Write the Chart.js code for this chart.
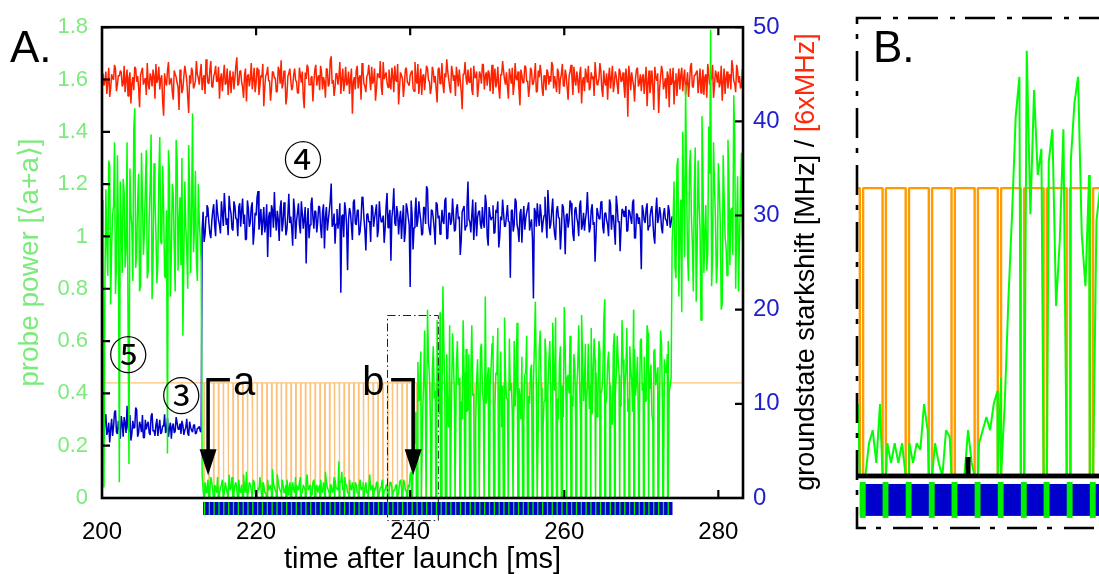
<!DOCTYPE html>
<html>
<head>
<meta charset="utf-8">
<title>Probe power and groundstate starkshift after launch</title>
<script src="https://cdn.jsdelivr.net/npm/chart.js@4.4.1/dist/chart.umd.min.js"></script>
<style>
  html, body { margin: 0; padding: 0; background: #fff; overflow: hidden; }
  #wrap { position: relative; width: 1099px; height: 574px; }
  #wrap canvas { position: absolute; left: 0; top: 0; }
</style>
</head>
<body>
<div id="wrap">
  <canvas id="main" width="1099" height="574"></canvas>
  <canvas id="zoom" width="1099" height="574"></canvas>
</div>
<script>
// ---------- axis ticks ----------
const xTicks = [200, 220, 240, 260, 280];
const powerTicks = [0, 0.2, 0.4, 0.6, 0.8, 1, 1.2, 1.4, 1.6, 1.8];
const shiftTicks = [0, 10, 20, 30, 40, 50];

// ---------- sampling of the recorded traces (ms) ----------
// every trace is stored as even samples (t = 200 + 0.25 i) and
// odd samples (t = 200.125 + 0.25 i)
const evenStart = 200.0;
const oddStart = 200.125;
const sampleStep = 0.25;

// reference laser trace, right axis [6xMHz]
const laserEven = [
  44.9, 43.8, 45.3, 44.1, 42.6, 45.0, 44.4, 45.6, 43.9, 44.8,
  45.2, 44.0, 43.1, 45.5, 44.6, 41.9, 44.7, 45.8, 44.2, 43.6,
  44.9, 45.7, 44.3, 42.8, 44.0, 45.1, 43.7, 44.8, 46.1, 44.5,
  43.4, 44.9, 40.6, 44.2, 45.4, 43.9, 44.6, 42.3, 45.0, 44.1,
  41.2, 44.7, 43.5, 45.9, 44.4, 40.9, 44.0, 45.3, 43.8, 46.4,
  44.6, 45.2, 43.3, 44.9, 46.6, 44.1, 45.5, 43.7, 44.8, 45.9,
  44.3, 42.4, 45.1, 44.7, 43.9, 45.6, 44.2, 43.0, 45.3, 44.6,
  46.8, 44.0, 45.4, 43.6, 44.9, 42.1, 45.0, 44.5, 43.4, 45.7,
  44.1, 45.5, 43.8, 44.7, 41.6, 44.9, 45.8, 44.3, 43.5, 45.2,
  44.6, 43.2, 45.4, 46.5, 44.0, 44.8, 42.7, 45.1, 44.4, 43.7,
  45.6, 44.2, 43.0, 44.9, 45.3, 41.4, 44.5, 45.7, 43.9, 44.8,
  44.1, 46.0, 44.6, 43.3, 45.2, 44.7, 42.5, 45.5, 44.0, 46.9,
  44.4, 43.6, 45.0, 44.8, 42.9, 45.6, 44.2, 43.8, 45.3, 44.5,
  40.8, 44.7, 45.4, 43.5, 44.9, 46.2, 44.0, 43.1, 45.0, 44.6,
  45.8, 44.3, 42.2, 45.1, 44.6, 43.7, 46.3, 44.9, 44.1, 45.5,
  43.4, 44.8, 45.9, 44.2, 41.8, 45.2, 44.5, 43.9, 45.7, 44.0,
  44.9, 45.4, 43.2, 44.6, 46.1, 44.3, 42.8, 45.0, 44.7, 45.6,
  44.2, 43.6, 45.3, 44.8, 42.0, 45.7, 44.4, 43.9, 45.1, 46.6,
  44.5, 43.0, 45.2, 44.9, 45.8, 43.7, 44.3, 41.3, 45.0, 44.6,
  45.5, 44.1, 43.4, 45.9, 44.7, 42.6, 45.3, 44.0, 46.0, 44.8,
  43.8, 45.1, 44.6, 42.9, 45.6, 44.2, 43.5, 45.0, 46.4, 44.4,
  45.2, 42.4, 44.8, 45.7, 43.9, 44.5, 45.3, 41.7, 44.9, 44.1,
  45.8, 44.3, 43.6, 45.4, 44.0, 46.2, 43.2, 44.7, 45.1, 42.7,
  44.6, 45.5, 43.9, 44.2, 45.9, 44.8, 43.1, 45.2, 44.5, 46.1,
  43.7, 44.9, 42.3, 45.3, 44.6, 45.8, 43.8, 44.4, 45.0, 41.9,
  44.7, 45.6, 44.1, 43.3, 45.2, 44.8, 46.3, 43.9, 44.5, 45.4,
  42.6, 44.2, 45.1, 44.7, 43.5, 45.9, 44.0, 44.8, 42.9, 45.3,
  44.4, 43.7, 45.6, 40.5, 44.9, 45.2, 43.8, 44.6, 45.7, 44.1,
  43.2, 45.0, 44.5, 41.6, 45.4, 44.0, 43.6, 45.8, 44.3, 40.9,
  44.7, 45.3, 43.9, 42.4, 44.8, 45.6, 44.2, 41.8, 45.1, 44.5,
  43.4, 45.7, 44.6, 42.8, 45.2, 44.0, 46.2, 43.6, 44.9, 45.4,
  44.2, 43.0, 45.5, 44.7, 42.5, 45.1, 44.4, 46.0, 43.8, 44.9,
  45.3, 44.1, 42.2, 45.6, 44.6, 43.5, 45.0, 46.5, 44.3, 43.1,
  45.4, 44.8, 43.7, 45.2, 44.6, 45.9, 44.0, 43.3, 45.1, 44.7
];
const laserOdd = [
  45.1, 44.3, 42.9, 45.7, 43.5, 44.6, 46.0, 43.2, 44.9, 45.4,
  43.7, 45.9, 44.4, 42.7, 45.2, 44.0, 43.3, 45.6, 44.8, 41.5,
  45.3, 43.9, 44.6, 46.2, 43.4, 44.7, 45.5, 42.4, 44.1, 45.8,
  44.5, 42.0, 45.1, 43.8, 46.3, 44.2, 43.1, 45.4, 44.7, 43.6,
  45.5, 43.0, 44.8, 45.2, 42.6, 44.9, 45.7, 43.5, 44.3, 45.0,
  43.9, 46.1, 44.5, 42.9, 45.3, 44.0, 46.4, 43.6, 45.1, 44.2,
  45.8, 44.6, 43.2, 46.0, 44.1, 42.8, 45.4, 44.7, 43.4, 45.9,
  43.8, 45.3, 44.2, 42.5, 45.6, 44.8, 43.7, 46.2, 44.4, 43.1,
  45.7, 42.8, 44.9, 46.1, 43.6, 45.0, 44.3, 42.2, 45.3, 44.6,
  43.1, 45.8, 44.0, 43.5, 45.4, 41.8, 44.8, 45.6, 43.3, 44.9,
  44.4, 43.0, 45.7, 44.1, 42.6, 45.2, 46.0, 43.9, 44.6, 42.1,
  45.5, 43.8, 44.9, 45.9, 43.4, 44.2, 45.6, 43.7, 46.5, 44.0,
  42.7, 45.1, 43.9, 46.3, 44.5, 43.2, 45.8, 44.1, 42.9, 45.6,
  44.2, 43.4, 45.9, 44.6, 42.3, 45.4, 43.7, 44.8, 46.0, 43.3,
  44.0, 45.6, 43.5, 44.9, 46.4, 42.8, 44.5, 45.2, 43.6, 44.3,
  45.7, 43.1, 44.4, 46.1, 43.7, 44.9, 42.6, 45.5, 44.2, 43.8,
  45.2, 43.5, 46.3, 44.0, 42.9, 45.6, 44.8, 43.3, 45.9, 44.4,
  42.9, 45.8, 44.1, 43.4, 45.5, 44.0, 46.2, 43.0, 44.7, 45.3,
  43.6, 45.9, 44.3, 42.7, 44.8, 45.5, 43.2, 45.0, 46.3, 43.9,
  44.2, 45.7, 42.8, 44.6, 45.3, 43.8, 44.9, 46.1, 43.4, 45.2,
  45.4, 43.2, 46.0, 44.5, 43.6, 45.8, 42.4, 44.9, 45.3, 43.9,
  43.7, 45.6, 44.0, 42.8, 46.2, 44.4, 43.3, 45.5, 44.1, 45.9,
  44.2, 42.6, 45.7, 43.9, 44.8, 43.1, 45.4, 46.0, 43.5, 44.9,
  43.3, 45.2, 44.8, 46.3, 43.5, 44.1, 45.6, 42.9, 45.0, 43.8,
  45.5, 43.6, 44.8, 46.0, 42.8, 44.4, 45.3, 43.0, 45.8, 44.3,
  43.2, 44.9, 45.9, 43.6, 44.5, 42.7, 45.0, 44.1, 46.2, 43.4,
  45.4, 43.8, 42.3, 45.7, 44.6, 43.1, 45.3, 43.9, 45.6, 44.2,
  45.2, 42.5, 44.7, 45.9, 43.3, 44.4, 42.1, 45.5, 43.7, 45.0,
  44.6, 42.9, 45.8, 44.1, 43.0, 45.4, 41.2, 44.7, 45.1, 43.5,
  45.9, 43.4, 44.6, 45.3, 41.5, 43.9, 45.7, 44.3, 42.7, 45.6,
  44.9, 43.2, 45.5, 44.0, 42.6, 45.8, 43.7, 44.9, 45.2, 43.0,
  45.6, 44.3, 42.8, 45.0, 46.1, 43.9, 44.6, 42.5, 45.4, 44.1,
  43.6, 45.9, 44.2, 42.9, 45.3, 44.8, 43.4, 45.7, 44.0, 46.0,
  44.1, 43.5, 45.6, 44.4, 42.9, 45.1, 44.8, 43.6, 45.4, 44.2
];

// groundstate starkshift, right axis [MHz], 200 ms .. 274 ms
const starkEven = [
  7.8, 6.2, 8.9, 7.1, 5.9, 8.4, 7.6, 9.3, 6.8, 7.4,
  8.7, 6.5, 7.9, 9.8, 7.0, 6.1, 8.2, 7.5, 9.4, 6.9,
  7.7, 8.8, 6.4, 7.3, 8.1, 6.7, 9.0, 7.2, 7.8, 6.6,
  8.3, 7.0, 7.6, 6.9, 8.5, 7.4, 6.3, 7.9, 7.1, 8.0,
  7.3, 6.8, 7.7, 7.2, 8.4, 6.6, 7.5, 7.0, 7.8, 6.9,
  7.4, 7.1,
  28.6, 27.2, 29.9, 30.8, 28.1, 29.4, 31.2, 27.8, 30.3, 29.0,
  31.5, 28.9, 30.6, 29.7, 32.1, 30.2, 28.4, 31.0, 29.6, 30.9,
  28.8, 31.8, 30.1, 27.5, 30.7, 29.3, 31.4, 28.2, 30.0, 32.6,
  29.5, 27.9, 30.9, 29.1, 25.6, 30.4, 31.1, 28.7, 29.8, 30.5,
  27.3, 31.6, 29.2, 30.0, 28.5, 32.3, 29.9, 26.8, 30.6, 29.4,
  31.3, 28.1, 30.2, 29.7, 24.9, 30.8, 29.0, 31.9, 28.6, 30.4,
  29.3, 30.9, 27.6, 31.2, 29.8, 28.4, 30.5, 33.4, 29.1, 27.0,
  30.7, 29.5, 21.8, 30.1, 31.4, 28.9, 29.6, 30.3, 27.4, 31.7,
  29.0, 30.6, 28.3, 32.0, 29.7, 26.3, 30.2, 29.4, 31.1, 28.8,
  30.4, 27.7, 31.5, 29.3, 30.0, 28.6, 32.4, 29.9, 25.2, 30.8,
  29.2, 31.0, 28.0, 30.5, 29.6, 27.2, 31.3, 29.8, 22.4, 30.1,
  28.7, 31.9, 29.5, 30.3, 27.9, 30.9, 29.1, 32.8, 28.4, 30.6,
  29.7, 26.9, 31.2, 30.0, 28.8, 29.4, 31.6, 27.5, 30.2, 29.0,
  31.8, 28.3, 30.7, 29.6, 25.8, 30.4, 31.0, 28.9, 33.6, 29.3,
  30.1, 27.4, 31.4, 29.8, 30.5, 28.6, 29.2, 32.2, 27.8, 30.9,
  29.5, 31.1, 28.2, 30.3, 26.6, 29.9, 31.7, 28.8, 30.0, 29.4,
  23.4, 30.6, 29.0, 31.5, 28.5, 30.2, 27.1, 31.0, 29.7, 30.8,
  28.4, 29.6, 21.2, 30.4, 31.3, 28.9, 30.1, 29.3, 32.0, 27.6,
  30.7, 29.1, 31.8, 28.0, 30.5, 29.8, 26.4, 31.2, 29.4, 30.0,
  28.7, 31.6, 29.9, 27.3, 30.9, 29.2, 31.1, 28.5, 30.3, 29.6,
  32.5, 28.2, 30.6, 29.0, 25.1, 30.8, 29.7, 31.4, 28.8, 30.2,
  29.5, 27.8, 31.2, 30.0, 28.6, 32.1, 29.3, 26.2, 30.7, 29.9,
  31.0, 28.4, 30.4, 29.1, 31.7, 27.6, 30.1, 29.8, 24.3, 30.5,
  29.2, 31.3, 28.9, 30.6, 29.4, 27.0, 31.9, 29.7, 30.2, 28.1,
  30.8, 29.5, 31.1, 28.7, 29.9
];
const starkOdd = [
  7.2, 8.5, 6.7, 8.0, 7.3, 6.6, 9.1, 7.0, 8.2, 6.3,
  7.9, 8.6, 6.9, 7.5, 8.8, 6.8, 7.4, 9.6, 6.5, 8.1,
  7.0, 6.4, 8.3, 7.8, 6.9, 8.7, 7.1, 6.6, 8.4, 7.5,
  6.8, 7.7, 8.9, 7.2, 6.5, 8.0, 7.6, 6.9, 8.6, 7.3,
  7.9, 8.2, 6.7, 7.5, 6.9, 8.1, 7.2, 7.7, 6.8, 7.4,
  7.6, 7.0,
  30.4, 28.0, 31.1, 29.2, 27.6, 30.5, 28.9, 31.7, 29.5, 28.1,
  30.2, 32.4, 29.0, 27.9, 30.8, 28.6, 31.5, 29.7, 27.8, 31.3,
  30.5, 29.1, 27.4, 31.6, 28.8, 30.9, 26.9, 30.3, 31.9, 28.5,
  30.7, 29.4, 28.2, 31.2, 29.8, 27.7, 30.6, 32.5, 28.4, 29.6,
  30.8, 28.3, 31.4, 27.9, 30.1, 29.2, 28.7, 31.8, 27.5, 30.3,
  29.0, 31.5, 28.6, 30.9, 29.3, 27.6, 31.2, 29.8, 30.5, 28.2,
  31.0, 28.7, 30.4, 26.5, 30.9, 29.5, 31.6, 28.8, 30.2, 29.1,
  28.6, 31.3, 29.9, 27.7, 30.6, 24.2, 30.8, 28.9, 31.4, 29.2,
  30.5, 27.9, 29.6, 31.7, 28.4, 30.1, 29.3, 27.2, 30.9, 29.7,
  31.2, 28.5, 30.0, 29.4, 27.1, 31.0, 28.7, 30.6, 29.8, 32.9,
  28.9, 30.3, 29.6, 27.5, 31.1, 28.3, 30.7, 29.0, 31.6, 26.4,
  30.2, 28.8, 31.5, 29.5, 28.1, 30.8, 33.1, 29.2, 27.9, 30.5,
  28.6, 31.4, 29.7, 28.0, 30.6, 29.1, 31.9, 27.6, 30.3, 29.4,
  30.0, 28.5, 31.2, 29.9, 27.3, 30.7, 28.4, 31.0, 29.6, 28.2,
  31.7, 29.3, 27.8, 30.4, 29.0, 30.9, 28.7, 31.3, 26.8, 30.1,
  29.8, 28.1, 30.6, 31.5, 27.7, 29.5, 30.2, 28.9, 31.1, 29.3,
  30.5, 28.3, 31.8, 29.0, 27.2, 30.7, 29.6, 28.5, 30.3, 31.4,
  29.1, 27.5, 30.8, 28.8, 29.9, 31.2, 28.2, 30.0, 29.4, 32.7,
  28.6, 30.5, 29.2, 27.4, 31.0, 29.7, 28.3, 30.9, 25.9, 30.2,
  29.5, 31.3, 28.0, 30.6, 29.8, 27.8, 31.6, 29.0, 28.4, 30.4,
  30.1, 28.7, 31.2, 29.3, 27.9, 30.8, 29.6, 31.5, 28.1, 30.3,
  29.0, 31.7, 28.5, 30.0, 26.9, 31.0, 29.4, 28.8, 30.5, 29.9,
  28.3, 30.6, 29.7, 31.4, 27.6, 30.2, 29.1, 28.6, 31.1, 29.5,
  30.7, 28.4, 29.8, 31.0, 27.8, 30.4, 29.2, 30.9, 28.7, 30.1,
  29.6, 28.9, 30.5, 29.3
];

// probe power, left axis [<a+a>], 200 ms .. 283.25 ms
const probeEven = [
  0.92, 0.04, 1.18, 0.85, 1.27, 0.96, 1.12, 0.78, 1.31, 0.06,
  1.05, 1.22, 0.88, 1.36, 0.13, 1.09, 0.83, 1.49, 0.94, 1.24,
  0.81, 1.15, 1.02, 1.33, 0.87, 1.19, 0.76, 1.28, 1.01, 0.90,
  1.38, 0.97, 1.11, 0.84, 0.17, 1.25, 0.93, 1.16, 0.79, 1.30,
  1.06, 0.89, 0.62, 1.21, 0.95, 1.35, 0.86, 1.47, 1.03, 0.91,
  1.20, 0.99,
  0.09, 0.05, 0.02, 0.07, 0.03, 0.06, 0.01, 0.04, 0.08, 0.02,
  0.05, 0.03, 0.06, 0.02, 0.09, 0.04, 0.01, 0.05, 0.03, 0.07,
  0.02, 0.06, 0.04, 0.10, 0.03, 0.05, 0.02, 0.06, 0.01, 0.04,
  0.08, 0.03, 0.05, 0.02, 0.07, 0.04, 0.02, 0.06, 0.03, 0.09,
  0.04, 0.02, 0.05, 0.03, 0.07, 0.01, 0.04, 0.06, 0.02, 0.05,
  0.03, 0.08, 0.02, 0.04, 0.06, 0.03, 0.05, 0.01, 0.07, 0.04,
  0.02, 0.05, 0.03, 0.06, 0.10, 0.04, 0.02, 0.05, 0.03, 0.07,
  0.04, 0.14, 0.06, 0.03, 0.08, 0.05, 0.02, 0.04, 0.06, 0.03,
  0.05, 0.02, 0.07, 0.04, 0.03, 0.06, 0.02, 0.09, 0.04, 0.05,
  0.03, 0.06, 0.02, 0.04, 0.08, 0.03, 0.05, 0.02, 0.06, 0.04,
  0.03, 0.05, 0.02, 0.07, 0.04, 0.06, 0.03, 0.05, 0.09, 0.12,
  0.21, 0.33, 0.52, 0.38, 0.61, 0.44, 0.29, 0.72, 0.47, 0.35,
  0.58, 0.41, 0.68, 0.32, 0.49, 0.81, 0.39, 0.55, 0.27, 0.46,
  0.63, 0.36, 0.51, 0.43, 0.74, 0.30, 0.48, 0.57, 0.34, 0.45,
  0.66, 0.40, 0.28, 0.53, 0.42, 0.59, 0.37, 0.77, 0.44, 0.31,
  0.50, 0.62, 0.35, 0.47, 0.25, 0.56, 0.43, 0.69, 0.38, 0.52,
  0.41, 0.33, 0.60, 0.46, 0.71, 0.39, 0.54, 0.29, 0.48, 0.64,
  0.36, 0.51, 0.44, 0.75, 0.32, 0.57, 0.42, 0.27, 0.61, 0.45,
  0.53, 0.38, 0.67, 0.41, 0.49, 0.30, 0.58, 0.43, 0.73, 0.35,
  0.47, 0.62, 0.39, 0.55, 0.24, 0.50, 0.44, 0.70, 0.37, 0.59,
  0.42, 0.34, 0.65, 0.48, 0.53, 0.31, 0.60, 0.40, 0.46, 0.76,
  0.38, 0.56, 0.43, 0.28, 0.63, 0.47, 0.52, 0.36, 0.68, 0.41,
  0.49, 0.33, 0.58, 0.45, 0.72, 0.39, 0.54, 0.30, 0.61, 0.44,
  0.37, 0.66, 0.42, 0.51, 0.29, 0.57, 0.46, 0.40, 0.64, 0.35,
  0.53, 0.48, 0.60, 0.43,
  0.98, 1.21, 0.84, 1.30, 1.02, 0.71, 1.17, 1.58, 0.93, 1.26,
  1.08, 0.79, 1.34, 0.95, 1.13, 0.68, 1.24, 1.01, 0.87, 1.42,
  1.79, 0.92, 1.19, 0.82, 1.28, 1.05, 0.74, 1.15, 0.96, 1.37,
  0.89, 1.11, 1.54, 0.80, 1.23, 0.99, 1.32, 0.90
];
const probeOdd = [
  1.14, 0.81, 0.97, 1.29, 0.74, 1.08, 1.36, 0.89, 1.03, 1.21,
  0.86, 1.17, 0.95, 0.71, 1.26, 1.04, 1.41, 0.88, 1.13, 0.79,
  1.32, 0.93, 1.18, 0.84, 1.07, 1.39, 0.91, 1.14, 0.82, 1.23,
  0.98, 1.27, 0.85, 1.10, 1.33, 0.77, 1.20, 0.96, 1.37, 0.87,
  1.15, 1.30, 0.92, 1.04, 0.80, 1.19, 1.09, 0.94, 1.25, 0.83,
  1.06, 0.90,
  0.03, 0.06, 0.04, 0.02, 0.08, 0.03, 0.05, 0.02, 0.06, 0.04,
  0.07, 0.02, 0.04, 0.05, 0.03, 0.08, 0.02, 0.06, 0.04, 0.03,
  0.05, 0.09, 0.02, 0.04, 0.06, 0.03, 0.07, 0.02, 0.05, 0.03,
  0.04, 0.06, 0.02, 0.08, 0.03, 0.05, 0.11, 0.04, 0.02, 0.06,
  0.03, 0.07, 0.02, 0.05, 0.04, 0.06, 0.02, 0.03, 0.08, 0.04,
  0.06, 0.02, 0.05, 0.03, 0.09, 0.04, 0.02, 0.06, 0.03, 0.05,
  0.04, 0.07, 0.02, 0.04, 0.06, 0.03, 0.05, 0.02, 0.08, 0.04,
  0.03, 0.06, 0.10, 0.04, 0.05, 0.02, 0.07, 0.03, 0.04, 0.06,
  0.02, 0.05, 0.03, 0.06, 0.04, 0.02, 0.07, 0.03, 0.05, 0.04,
  0.06, 0.02, 0.04, 0.07, 0.03, 0.05, 0.02, 0.06, 0.04, 0.03,
  0.05, 0.02, 0.06, 0.04, 0.07, 0.03, 0.05, 0.04, 0.10, 0.15,
  0.26, 0.45, 0.37, 0.56, 0.33, 0.64, 0.41, 0.53, 0.30, 0.49,
  0.38, 0.62, 0.44, 0.71, 0.36, 0.58, 0.47, 0.31, 0.66, 0.40,
  0.52, 0.29, 0.60, 0.46, 0.37, 0.68, 0.42, 0.33, 0.55, 0.48,
  0.39, 0.63, 0.45, 0.34, 0.57, 0.41, 0.70, 0.36, 0.50, 0.43,
  0.59, 0.32, 0.48, 0.65, 0.40, 0.27, 0.54, 0.46, 0.38, 0.61,
  0.44, 0.56, 0.35, 0.67, 0.42, 0.30, 0.53, 0.47, 0.62, 0.39,
  0.49, 0.34, 0.58, 0.43, 0.28, 0.64, 0.45, 0.37, 0.55, 0.41,
  0.60, 0.33, 0.47, 0.69, 0.38, 0.52, 0.44, 0.31, 0.57, 0.46,
  0.40, 0.63, 0.35, 0.50, 0.42, 0.66, 0.29, 0.54, 0.45, 0.37,
  0.59, 0.43, 0.32, 0.61, 0.48, 0.39, 0.56, 0.41, 0.67, 0.36,
  0.51, 0.44, 0.30, 0.58, 0.40, 0.62, 0.47, 0.35, 0.53, 0.42,
  0.65, 0.38, 0.49, 0.33, 0.57, 0.45, 0.28, 0.60, 0.41, 0.54,
  0.37, 0.63, 0.46, 0.32, 0.56, 0.43, 0.50, 0.39, 0.59, 0.34,
  0.48, 0.55, 0.41, 0.46,
  1.06, 0.88, 1.27, 0.77, 1.14, 1.40, 0.92, 1.21, 0.83, 1.33,
  0.97, 1.18, 0.75, 1.29, 1.03, 1.46, 0.86, 1.12, 0.94, 1.24,
  0.81, 1.36, 1.07, 0.90, 1.19, 0.72, 1.31, 1.00, 0.85, 1.22,
  1.10, 0.93, 1.38, 1.04, 0.79, 1.16, 1.01
];

// pump pulse train: start of each pulse (ms), pulse length and pump level
const pulseTimes = [
  213.22, 213.85, 214.47, 215.10, 215.73, 216.36, 216.98, 217.61, 218.24, 218.86,
  219.49, 220.12, 220.74, 221.37, 222.00, 222.63, 223.25, 223.88, 224.51, 225.13,
  225.76, 226.39, 227.01, 227.64, 228.27, 228.90, 229.52, 230.15, 230.78, 231.40,
  232.03, 232.66, 233.28, 233.91, 234.54, 235.17, 235.79, 236.42, 237.05, 237.67,
  238.30, 238.93, 239.55, 240.18, 240.81, 241.44, 242.06, 242.69, 243.32, 243.94,
  244.57, 245.20, 245.82, 246.45, 247.08, 247.71, 248.33, 248.96, 249.59, 250.21,
  250.84, 251.47, 252.09, 252.72, 253.35, 253.98, 254.60, 255.23, 255.86, 256.48,
  257.11, 257.74, 258.36, 258.99, 259.62, 260.25, 260.87, 261.50, 262.13, 262.75,
  263.38, 264.01, 264.63, 265.26, 265.89, 266.52, 267.14, 267.77, 268.40, 269.02,
  269.65, 270.28, 270.90, 271.53, 272.16, 272.79, 273.41
];
const pulseLength = 0.09;   // ms, pump off
const gateLength = 0.16;    // ms, marker of each pulse in the timing bar
const pumpLevel = 0.44;
const gateSpan = [213.12, 274.05];

// detail window B: probe power sampled every 0.1 ms from 237.0 ms
const detailStart = 237.0;
const detailStep = 0.1;
const detailPower = [
  0.11, 0.04, 0.00, 0.05, 0.07, 0.02, 0.11, 0.02, 0.05, 0.02,
  0.05, 0.02, 0.05, 0.00, 0.05, 0.02, 0.05, 0.04, 0.11, 0.07,
  0.02, 0.05, 0.02, 0.00, 0.07, 0.06, 0.00, 0.00, 0.00, 0.00,
  0.07, 0.02, 0.00, 0.05, 0.07, 0.09, 0.07, 0.11, 0.13, 0.15,
  0.11, 0.27, 0.40, 0.55, 0.61, 0.39, 0.65, 0.40, 0.59, 0.46,
  0.50, 0.31, 0.48, 0.53, 0.26, 0.36, 0.53, 0.30, 0.48, 0.57,
  0.61, 0.37, 0.29, 0.46, 0.51, 0.39, 0.44
];

// ---------- layout of the two panels ----------
const FONT = '"Liberation Sans", Arial, Helvetica, sans-serif';
const mainRange = { min: 200, max: 283.2 };
const detailRange = { min: 237.0, max: 243.57, yMin: -0.0795, yMax: 0.70 };

// annotations of panel A, in data units (time, probe power)
const markers = [
  { text: '\u2463', x: 226.1, y: 1.295 },
  { text: '\u2464', x: 203.4, y: 0.55 },
  { text: '\u2462', x: 210.3, y: 0.392 }
];
const arrows = [
  { label: 'a', stem: 213.77, end: 216.6, top: 0.452, tip: 0.087, lx: 217.0, ly: 0.395 },
  { label: 'b', stem: 240.39, end: 237.53, top: 0.452, tip: 0.087, lx: 233.77, ly: 0.395 }
];
const detailBox = { from: 237.0, to: 243.6, top: 0.70 };

// ---------- series builders ----------
function sampled(values, start, step) {
  return values.map((v, i) => ({ x: +(start + i * step).toFixed(3), y: v }));
}
function interleave(even, odd) {
  return sampled(even, evenStart, sampleStep)
    .concat(sampled(odd, oddStart, sampleStep))
    .sort((a, b) => a.x - b.x);
}
function inPulse(t) {
  return pulseTimes.some(p => t > p && t < p + pulseLength);
}
function withPumpGaps(points, from, to) {
  const gaps = [];
  pulseTimes.forEach(p => {
    if (p >= from && p <= to) gaps.push({ x: p, y: 0 }, { x: p + pulseLength, y: 0 });
  });
  return points.filter(pt => !inPulse(pt.x)).concat(gaps).sort((a, b) => a.x - b.x);
}
function pumpTrace(from, to) {
  const pts = [{ x: from, y: pumpLevel }];
  pulseTimes.forEach(p => {
    if (p > from && p < to) {
      pts.push({ x: p, y: pumpLevel }, { x: p, y: 0 },
               { x: p + pulseLength, y: 0 }, { x: p + pulseLength, y: pumpLevel });
    }
  });
  pts.push({ x: to, y: pumpLevel });
  return pts;
}

const probePts = withPumpGaps(interleave(probeEven, probeOdd), 200, 284);
const starkPts = interleave(starkEven, starkOdd);
const laserPts = interleave(laserEven, laserOdd);
const pumpPts = pumpTrace(200, 284);

const detailProbePts = withPumpGaps(sampled(detailPower, detailStart, detailStep), 236.9, 243.7);
const detailPumpPts = pumpTrace(236.9, 243.7);

function lineSet(label, data, axis, color, width) {
  return { label, data, yAxisID: axis, borderColor: color, borderWidth: width,
           pointRadius: 0, borderJoinStyle: 'bevel', fill: false, tension: 0 };
}

// ---------- panel A decorations: frame, inward ticks, timing bar, notes ----------
const panelA = {
  id: 'panelA',
  afterDatasetsDraw(chart) {
    const { ctx, chartArea: a, scales: { x, y, y2 } } = chart;
    ctx.save();

    // outline of the detail window
    const bx1 = x.getPixelForValue(detailBox.from), bx2 = x.getPixelForValue(detailBox.to);
    const by1 = y.getPixelForValue(detailBox.top), by2 = a.bottom + 22;
    ctx.strokeStyle = '#222'; ctx.lineWidth = 1; ctx.setLineDash([8, 3, 1.5, 3]);
    ctx.strokeRect(Math.round(bx1) + 0.5, Math.round(by1) + 0.5, bx2 - bx1, by2 - by1);
    ctx.setLineDash([]);

    // bracket arrows a / b
    arrows.forEach(ar => {
      const xs = x.getPixelForValue(ar.stem), xe = x.getPixelForValue(ar.end);
      const yt = y.getPixelForValue(ar.top), yp = y.getPixelForValue(ar.tip);
      ctx.strokeStyle = '#000'; ctx.lineWidth = 3.5; ctx.lineJoin = 'miter';
      ctx.beginPath(); ctx.moveTo(xe, yt); ctx.lineTo(xs, yt); ctx.lineTo(xs, yp - 24); ctx.stroke();
      ctx.fillStyle = '#000';
      ctx.beginPath(); ctx.moveTo(xs - 8.5, yp - 26); ctx.lineTo(xs + 8.5, yp - 26); ctx.lineTo(xs, yp);
      ctx.closePath(); ctx.fill();
      ctx.font = '40px ' + FONT; ctx.textAlign = 'left'; ctx.textBaseline = 'alphabetic';
      ctx.fillText(ar.label, x.getPixelForValue(ar.lx), y.getPixelForValue(ar.ly));
    });

    // circled stage numbers
    ctx.fillStyle = '#000'; ctx.textAlign = 'center'; ctx.textBaseline = 'middle';
    ctx.font = '39px "Noto Sans CJK JP", "DejaVu Sans", sans-serif';
    markers.forEach(m => ctx.fillText(m.text, x.getPixelForValue(m.x), y.getPixelForValue(m.y)));

    // frame
    ctx.strokeStyle = '#000'; ctx.lineWidth = 2.6;
    ctx.strokeRect(a.left, a.top, a.right - a.left, a.bottom - a.top);

    // inward tick marks
    ctx.lineWidth = 2.2; ctx.beginPath();
    xTicks.forEach(v => {
      if (v <= mainRange.min || v >= mainRange.max) return;
      const px = x.getPixelForValue(v);
      ctx.moveTo(px, a.bottom); ctx.lineTo(px, a.bottom - 8);
      ctx.moveTo(px, a.top); ctx.lineTo(px, a.top + 8);
    });
    powerTicks.forEach(v => {
      const py = y.getPixelForValue(v);
      ctx.moveTo(a.left, py); ctx.lineTo(a.left + 8, py);
    });
    shiftTicks.forEach(v => {
      const py = y2.getPixelForValue(v);
      ctx.moveTo(a.right, py); ctx.lineTo(a.right - 8, py);
    });
    ctx.stroke();

    // timing bar below the axis
    const g1 = x.getPixelForValue(gateSpan[0]), g2 = x.getPixelForValue(gateSpan[1]);
    ctx.fillStyle = '#0000cc';
    ctx.fillRect(g1, a.bottom + 4, g2 - g1, 13);
    ctx.fillStyle = '#00ee00';
    pulseTimes.forEach(p => {
      const p1 = x.getPixelForValue(p), p2 = x.getPixelForValue(p + gateLength);
      ctx.fillRect(p1, a.bottom + 4, Math.max(p2 - p1, 1.3), 13);
    });

    // right axis title, two colours
    ctx.save();
    ctx.translate(a.right + 64, 262); ctx.rotate(-Math.PI / 2);
    ctx.font = '27px ' + FONT; ctx.textBaseline = 'middle'; ctx.textAlign = 'left';
    const t1 = 'groundstate starkshift [MHz] / ', t2 = '[6xMHz]';
    const w1 = ctx.measureText(t1).width, w2 = ctx.measureText(t2).width;
    ctx.fillStyle = '#000'; ctx.fillText(t1, -(w1 + w2) / 2, 0);
    ctx.fillStyle = '#ff2a0a'; ctx.fillText(t2, -(w1 + w2) / 2 + w1, 0);
    ctx.restore();

    // panel letter
    ctx.fillStyle = '#000'; ctx.font = '44px ' + FONT; ctx.textAlign = 'left'; ctx.textBaseline = 'alphabetic';
    ctx.fillText('A.', 10, 62);
    ctx.restore();
  }
};

const mainChart = new Chart(document.getElementById('main'), {
  type: 'line',
  data: {
    datasets: [
      lineSet('probe power', probePts, 'y', '#00ff00', 1.5),
      lineSet('groundstate starkshift', starkPts, 'y2', '#0000cc', 1.5),
      lineSet('6xMHz', laserPts, 'y2', '#ff2200', 1.5),
      lineSet('pump', pumpPts, 'y', '#fcc27c', 1.2)
    ]
  },
  options: {
    responsive: false, animation: false, devicePixelRatio: 1,
    layout: { padding: { top: 20, left: 0, right: 0, bottom: 0 } },
    plugins: { legend: { display: false }, tooltip: { enabled: false } },
    scales: {
      x: {
        type: 'linear', position: 'bottom', min: mainRange.min, max: mainRange.max,
        afterBuildTicks: s => { s.ticks = xTicks.map(v => ({ value: v })); },
        afterFit: s => { s.height = 76; },
        grid: { display: false, drawTicks: false }, border: { display: false },
        ticks: { padding: 20, color: '#000', autoSkip: false, maxRotation: 0,
                 font: { family: FONT, size: 24 } },
        title: { display: true, text: 'time after launch [ms]', color: '#000', padding: 0,
                 font: { family: FONT, size: 29, lineHeight: 1 } }
      },
      y: {
        type: 'linear', position: 'left', min: 0, max: 1.8,
        afterBuildTicks: s => { s.ticks = powerTicks.map(v => ({ value: v })); },
        afterFit: s => { s.width = 102; },
        grid: { display: false, drawTicks: false }, border: { display: false },
        ticks: { padding: 14, color: '#7ceb7c', autoSkip: false,
                 font: { family: FONT, size: 22 },
                 callback: v => String(+(+v).toFixed(1)) },
        title: { display: true, text: 'probe power [\u27E8a+a\u27E9]', color: '#7ceb7c',
                 padding: { top: 16, bottom: 0 },
                 font: { family: FONT, size: 28, lineHeight: 1 } }
      },
      y2: {
        type: 'linear', position: 'right', min: 0, max: 50,
        afterBuildTicks: s => { s.ticks = shiftTicks.map(v => ({ value: v })); },
        afterFit: s => { s.width = 356; },
        grid: { display: false, drawTicks: false }, border: { display: false },
        ticks: { padding: 10, color: '#1f1fcc', autoSkip: false,
                 font: { family: FONT, size: 24 } }
      }
    }
  },
  plugins: [panelA]
});

// ---------- panel B: magnified view of the switching ----------
const panelB = {
  id: 'panelB',
  afterDatasetsDraw(chart) {
    const { ctx, chartArea: a, scales: { x, y } } = chart;
    ctx.save();
    const y0 = y.getPixelForValue(0);
    // zero line and the magnified 240 ms tick
    ctx.fillStyle = '#000';
    ctx.fillRect(a.left, y0 - 2.4, a.right - a.left, 4.8);
    const xt = x.getPixelForValue(240), yt = y.getPixelForValue(0.029);
    ctx.fillRect(xt - 2.5, yt, 5, y0 - yt);
    // timing bar
    const yb1 = y.getPixelForValue(-0.0122), yb2 = y.getPixelForValue(-0.061);
    const xb1 = x.getPixelForValue(Math.max(gateSpan[0], pulseTimes.find(p => p >= detailRange.min)));
    ctx.fillStyle = '#0000cc';
    ctx.fillRect(xb1, yb1, a.right - xb1, yb2 - yb1);
    ctx.fillStyle = '#00ee00';
    pulseTimes.forEach(p => {
      if (p < detailRange.min - 0.2 || p > detailRange.max) return;
      const p1 = x.getPixelForValue(p), p2 = x.getPixelForValue(p + gateLength);
      ctx.fillRect(p1, yb1 - 2, p2 - p1, yb2 - yb1 + 4);
    });
    // dash-dot outline
    ctx.strokeStyle = '#000'; ctx.lineWidth = 2.6; ctx.setLineDash([30, 10, 5, 12]);
    ctx.beginPath();
    ctx.moveTo(a.right + 10, a.top); ctx.lineTo(a.left - 1, a.top);
    ctx.lineTo(a.left - 1, a.bottom); ctx.lineTo(a.right + 10, a.bottom);
    ctx.stroke();
    ctx.setLineDash([]);
    // panel letter
    ctx.fillStyle = '#000'; ctx.font = '44px ' + FONT; ctx.textAlign = 'left'; ctx.textBaseline = 'alphabetic';
    ctx.fillText('B.', a.left + 15, 62);
    ctx.restore();
  }
};

const detailChart = new Chart(document.getElementById('zoom'), {
  type: 'line',
  data: {
    datasets: [
      lineSet('probe power', detailProbePts, 'y', '#00ff00', 2),
      lineSet('pump', detailPumpPts, 'y', '#ff9a00', 2.4)
    ]
  },
  options: {
    responsive: false, animation: false, devicePixelRatio: 1,
    layout: { padding: { left: 858, top: 18, right: 0, bottom: 46 } },
    plugins: { legend: { display: false }, tooltip: { enabled: false } },
    scales: {
      x: { type: 'linear', display: false, min: detailRange.min, max: detailRange.max },
      y: { type: 'linear', display: false, min: detailRange.yMin, max: detailRange.yMax }
    }
  },
  plugins: [panelB]
});
</script>
</body>
</html>
